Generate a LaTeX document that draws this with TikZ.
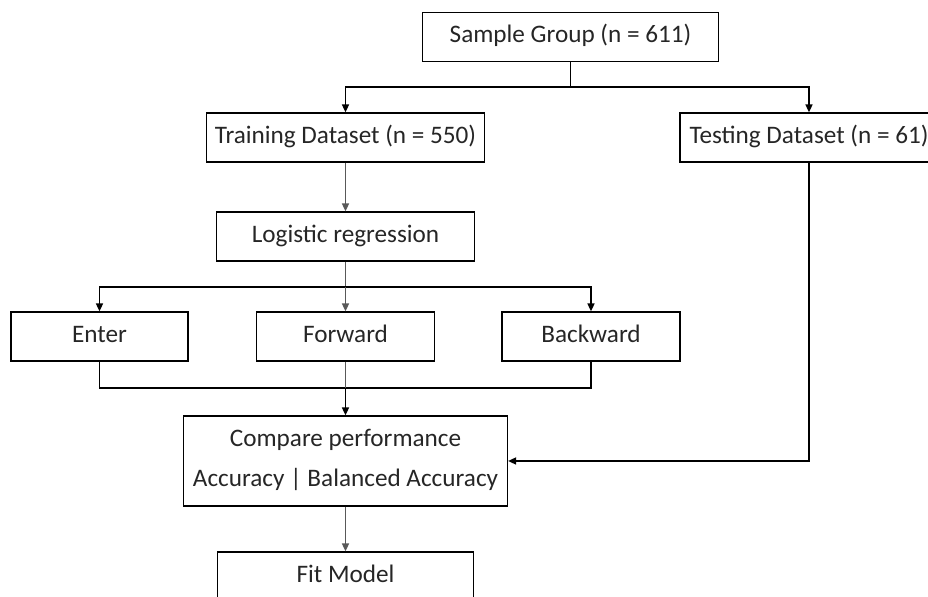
\documentclass[tikz,border=0pt]{standalone}
\usepackage{fontspec}
\setmainfont{Carlito}
\usetikzlibrary{arrows.meta}

\begin{document}
\begin{tikzpicture}[
    x=0.5pt, y=-0.5pt,
    box/.style={draw, line width=0.6pt, minimum height=24.5pt, inner sep=0pt, align=center, text=black!85,
      text height=9pt, text depth=3pt, font=\fontsize{12.6}{20}\selectfont},
    arr/.style={-{Triangle[length=4pt, width=3.5pt]}, line width=0.8pt},
    link/.style={line width=0.8pt},
    soft/.style={draw=black!65}
  ]
    \useasboundingbox (0,0) rectangle (928,597);
    \clip (0,0) rectangle (928,597);

    % boxes
    \node[box, minimum width=148pt] (sample) at (570.5,37) {Sample Group (n = 611)};
    \node[box, minimum width=139pt] (train) at (345.5,137.5) {Training Dataset (n = 550)};
    \node[box, minimum width=129pt] (test) at (809,137.5) {Testing Dataset (n = 61)};
    \node[box, minimum width=129pt] (logit) at (345.5,236.5) {Logistic regression};
    \node[box, minimum width=88.5pt] (enter) at (99.5,336.5) {Enter};
    \node[box, minimum width=89pt] (forward) at (345.5,336.5) {Forward};
    \node[box, minimum width=89pt] (backward) at (591,336.5) {Backward};
    \node[box, minimum width=162pt, minimum height=45pt, text height=29pt] (compare) at (345.5,461) {Compare performance\\Accuracy | Balanced Accuracy};
    \node[box, minimum width=128pt] (fit) at (345.5,576.5) {Fit Model};

    \coordinate (fork) at (570.5,87);
    \coordinate (branch) at (345.5,287);
    \coordinate (merge) at (345.5,388);

    % split of the sample
    \draw[link] (sample) -- (fork);
    \draw[arr] (fork) -| (train);
    \draw[arr] (fork) -| (test);

    % training branch
    \draw[arr, soft] (train) -- (logit);
    \draw[link, soft] (logit) -- (branch);
    \draw[arr] (branch) -| (enter);
    \draw[arr] (branch) -| (backward);
    \draw[arr, soft] (branch) -- (forward);

    % methods join again
    \draw[link] (enter) |- (merge) -| (backward);
    \draw[link, soft] (forward) -- (merge);
    \draw[arr] (merge) -- (compare);

    % testing data goes straight to the comparison
    \draw[arr] (test) |- (compare);
    \draw[arr, soft] (compare) -- (fit);
  \end{tikzpicture}
\end{document}
